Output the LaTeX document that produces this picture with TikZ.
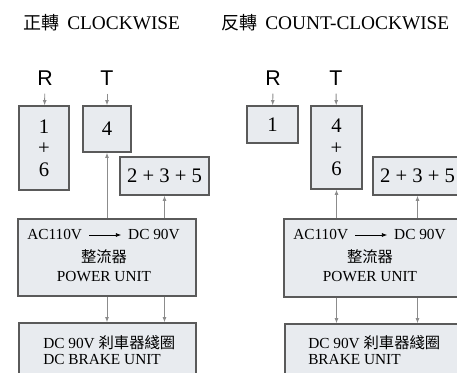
\documentclass[tikz,border=0pt]{standalone}
\usepackage{fontspec}
\setmainfont{Liberation Serif}
\newfontfamily\cjk{Noto Sans CJK TC}
\newfontfamily\lblfont{Liberation Sans}
\usetikzlibrary{arrows.meta}
\definecolor{boxfill}{HTML}{E8EBEF}
\definecolor{boxline}{HTML}{5A5A5A}
\definecolor{wire}{HTML}{8C8C8C}
\tikzset{
  box/.style={draw=boxline,fill=boxfill,line width=.9pt,inner sep=0pt,align=center,
    font=\fontsize{15.5}{16}\selectfont},
  wh/.style 2 args={minimum width=#1*0.75pt,minimum height=#2*0.75pt},
  feed/.style={-{Latex[length=4pt,width=3pt]},draw=wire,line width=.7pt},
  phase/.style={inner sep=0pt,font=\lblfont\fontsize{16}{16}\selectfont},
  title/.style={anchor=west,inner sep=0pt,font=\fontsize{14.5}{16}\selectfont},
  unittext/.style={inner sep=0pt,font=\fontsize{11.5}{12}\selectfont},
  braketext/.style={anchor=west,inner sep=0pt,align=left,font=\fontsize{11.5}{12}\selectfont}
}
\begin{document}
\begin{tikzpicture}[x=0.75pt,y=-0.75pt]
\useasboundingbox (0,0) rectangle (457,372);
\clip (0,0) rectangle (457,372);
% titles
\node[title] (cw) at (23,23) {{\cjk\fontsize{13.5}{14}\selectfont 正轉}\hspace{6pt}CLOCKWISE};
\node[title] (ccw) at (221,23) {{\cjk\fontsize{13.5}{14}\selectfont 反轉}\hspace{6pt}COUNT-CLOCKWISE};

% clockwise
\node[phase] (r1) at (45,78) {R};
\node[phase] (t1) at (107,78) {T};
\node[box,wh={50}{84}] (b16) at (44,148) {1\\+\\6};
\node[box,wh={48}{46}] (b4) at (107,129) {4};
\node[box,wh={89}{38}] (b235) at (164.5,176) {2 + 3 + 5};
\node[box,wh={178}{77}] (pu) at (107,257.5) {};
\node[box,wh={177}{67}] (bu) at (107.5,356.5) {};
\node[unittext,anchor=west] (ac1) at (27,235) {AC110V};
\node[unittext,anchor=east] (dc1) at (180,235) {DC 90V};
\node[unittext] (zl1) at (104,257) {\cjk 整流器};
\node[unittext] (pw1) at (104,277) {POWER UNIT};
\node[braketext] (bk1) at (43,350) {DC 90V {\cjk 刹車器綫圈}\\DC BRAKE UNIT};
\draw[-{Latex[length=4pt,width=3pt]},line width=.6pt] ([xshift=5pt]ac1.east) -- ([xshift=-5pt]dc1.west);
\draw[feed,shorten <=6pt] (r1) -- (b16);
\draw[feed,shorten <=6pt] (t1) -- (b4);
\draw[feed] (pu.north -| b4.south) -- (b4.south);
\draw[feed] (pu.north -| b235.south) -- (b235.south);
\draw[feed] (pu.south -| b4.south) -- (bu.north -| b4.south);
\draw[feed] (pu.south -| b235.south) -- (bu.north -| b235.south);

% count-clockwise
\node[phase] (r2) at (273,78) {R};
\node[phase] (t2) at (336,78) {T};
\node[box,wh={51}{37}] (c1) at (272.5,124.5) {1};
\node[box,wh={51}{83}] (c46) at (336.5,147.5) {4\\+\\6};
\node[box,wh={89}{38}] (c235) at (417.5,176) {2 + 3 + 5};
\node[box,wh={178}{78}] (pu2) at (373,258) {};
\node[box,wh={177}{67}] (bu2) at (373.5,357.5) {};
\node[unittext,anchor=west] (ac2) at (293,235) {AC110V};
\node[unittext,anchor=east] (dc2) at (446,235) {DC 90V};
\node[unittext] (zl2) at (370,257) {\cjk 整流器};
\node[unittext] (pw2) at (370,277) {POWER UNIT};
\node[braketext] (bk2) at (308,350) {DC 90V {\cjk 刹車器綫圈}\\BRAKE UNIT};
\draw[-{Latex[length=4pt,width=3pt]},line width=.6pt] ([xshift=5pt]ac2.east) -- ([xshift=-5pt]dc2.west);
\draw[feed,shorten <=6pt] (r2) -- (c1);
\draw[feed,shorten <=6pt] (t2) -- (c46);
\draw[feed] (pu2.north -| c46.south) -- (c46.south);
\draw[feed] (pu2.north -| c235.south) -- (c235.south);
\draw[feed] (pu2.south -| c46.south) -- (bu2.north -| c46.south);
\draw[feed] (pu2.south -| c235.south) -- (bu2.north -| c235.south);
\end{tikzpicture}
\end{document}
